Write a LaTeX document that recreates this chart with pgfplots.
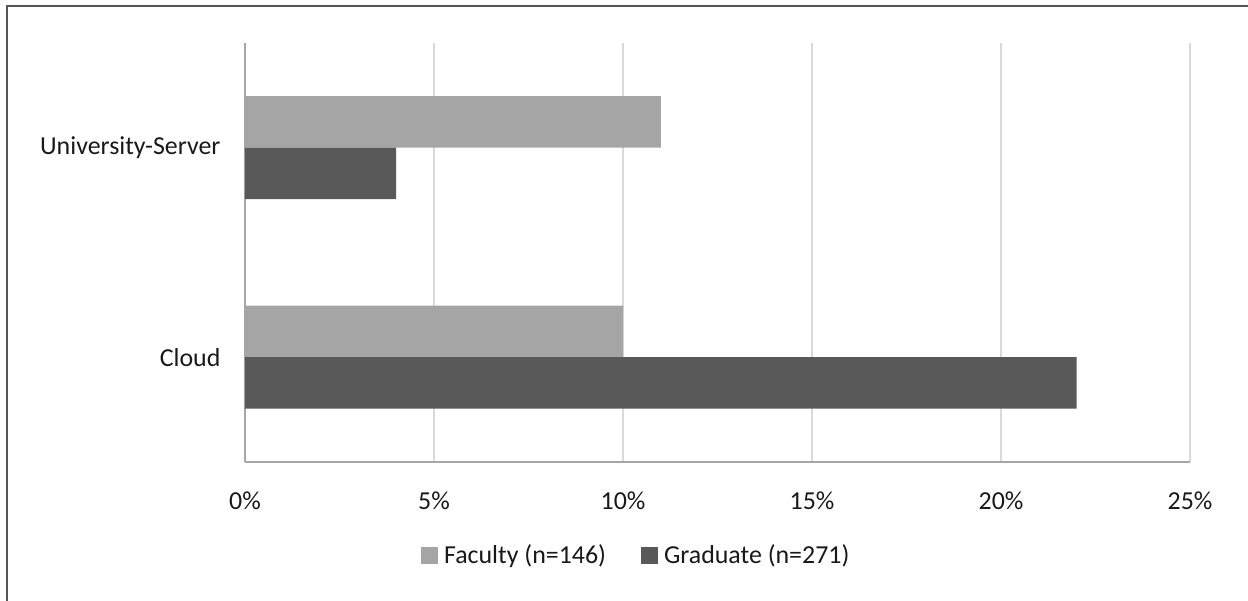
\documentclass[border=0pt]{standalone}
\usepackage{fontspec}
\setmainfont{Carlito}
\usepackage{pgfplots}
\pgfplotsset{compat=1.18}
\definecolor{fac}{HTML}{A5A5A5}
\definecolor{grad}{HTML}{595959}
\definecolor{gridc}{HTML}{D9D9D9}
\definecolor{axc}{HTML}{A6A6A6}
\definecolor{framec}{HTML}{555555}

\begin{document}
\begin{tikzpicture}
\useasboundingbox (0,0) rectangle (1248bp,601bp);
% outer frame (only top and left edges show in the reference)
\draw[line width=1.5bp, framec] (7bp,0) -- (7bp,595bp) -- (1248bp,595bp);
\begin{axis}[
    at={(245bp,139bp)}, anchor=south west,
    scale only axis, width=945bp, height=419bp,
    xbar, bar width=51.5bp,
    xmin=0, xmax=25, ymin=-0.5, ymax=1.5,
    xtick={0,5,10,15,20,25},
    xticklabels={0\%,5\%,10\%,15\%,20\%,25\%},
    ytick={0,1}, yticklabels={Cloud,University-Server},
    major tick length=0pt,
    xmajorgrids, major grid style={draw=gridc, line width=2bp},
    axis x line*=bottom, axis y line*=left,
    axis line style={draw=axc, line width=2bp, -},
    tick label style={font=\fontsize{26}{31}\selectfont, text=black!90},
    xticklabel style={anchor=base, yshift=-47bp},
    yticklabel style={xshift=-21bp},
    legend style={at={(0.414,-0.222)}, anchor=center, draw=none,
        legend columns=2, font=\fontsize{26}{31}\selectfont,
        text=black!90,
        /tikz/every even column/.append style={column sep=33bp}},
    legend image code/.code={\fill[#1] (0bp,-8.5bp) rectangle (17bp,8.5bp);
        \path (21bp,0bp);},
]
\addplot[fill=fac, draw=none, bar shift=25.75bp] coordinates {(10,0) (11,1)};
\addplot[fill=grad, draw=none, bar shift=-25.75bp] coordinates {(22,0) (4,1)};
\legend{Faculty (n=146), Graduate (n=271)}
\end{axis}
\end{tikzpicture}
\end{document}
